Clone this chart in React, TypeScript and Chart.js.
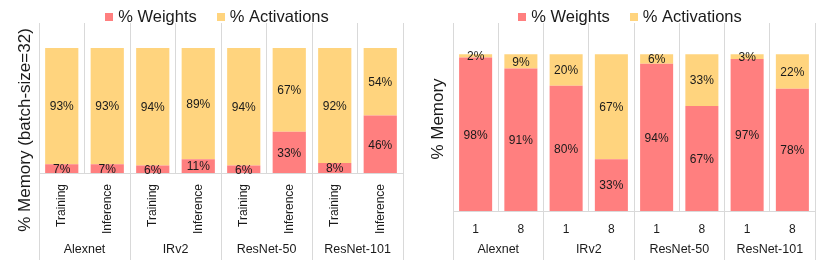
import React, { useEffect, useRef } from "react";
import { Chart, registerables } from "chart.js";

Chart.register(...registerables);

const groups = ["Alexnet", "IRv2", "ResNet-50", "ResNet-101"];
const leftCategories = ["Training", "Inference", "Training", "Inference", "Training", "Inference", "Training", "Inference"];
const leftWeights = [7, 7, 6, 11, 6, 33, 8, 46];
const leftActivations = [93, 93, 94, 89, 94, 67, 92, 54];
const rightCategories = ["1", "8", "1", "8", "1", "8", "1", "8"];
const rightWeights = [98, 91, 80, 33, 94, 67, 97, 78];
const rightActivations = [2, 9, 20, 67, 6, 33, 3, 22];
const seriesNames = ["% Weights", "% Activations"];

const RED = "#FF7F7F";
const YELLOW = "#FFD47E";
const GRID = "#d9d9d9";
const FONT = "'Liberation Sans', Arial, Helvetica, sans-serif";
const TEXT = "#1a1a1a";

const align = (p: number) => Math.round(p - 0.5) + 0.5;

const decorPlugin = {
  id: "decor",
  afterDraw(chart: any, _args: any, opts: any) {
    const ctx = chart.ctx as CanvasRenderingContext2D;
    const { left, right, bottom } = chart.chartArea;
    const n = chart.data.labels.length;
    const w = (right - left) / n;
    ctx.save();

    // group separators below the axis
    ctx.strokeStyle = GRID;
    ctx.lineWidth = 1;
    for (let g = 0; g <= groups.length; g++) {
      const px = align(left + g * 2 * w);
      ctx.beginPath();
      ctx.moveTo(px, bottom);
      ctx.lineTo(px, chart.height);
      ctx.stroke();
    }

    // group labels
    ctx.fillStyle = TEXT;
    ctx.font = `12.5px ${FONT}`;
    ctx.textAlign = "center";
    ctx.textBaseline = "middle";
    groups.forEach((name, g) => {
      ctx.fillText(name, left + (g * 2 + 1) * w, opts.groupY);
    });

    // data labels
    ctx.font = `12px ${FONT}`;
    chart.data.datasets.forEach((ds: any, di: number) => {
      const meta = chart.getDatasetMeta(di);
      meta.data.forEach((el: any, i: number) => {
        const v = ds.data[i];
        const cy = (el.y + el.base) / 2;
        ctx.fillText(`${v}%`, el.x, cy + 1);
      });
    });

    // y title
    ctx.save();
    ctx.font = `17px ${FONT}`;
    ctx.translate(opts.titleX, opts.titleY);
    ctx.rotate(-Math.PI / 2);
    ctx.textAlign = "center";
    ctx.textBaseline = "middle";
    ctx.fillText(opts.title, 0, 0);
    ctx.restore();

    // legend
    ctx.font = `16.5px ${FONT}`;
    ctx.textAlign = "left";
    ctx.textBaseline = "middle";
    const box = 8;
    const gapBox = 5;
    const gapItem = 20;
    const widths = seriesNames.map((s) => box + gapBox + ctx.measureText(s).width);
    const total = widths.reduce((a, b) => a + b, 0) + gapItem * (widths.length - 1);
    let x = (left + right) / 2 - 4 - total / 2;
    const ly = 16.5;
    const colors = [RED, YELLOW];
    seriesNames.forEach((s, i) => {
      ctx.fillStyle = colors[i];
      ctx.fillRect(Math.round(x), Math.round(ly - box / 2), box, box);
      ctx.fillStyle = TEXT;
      ctx.fillText(s, x + box + gapBox, ly + 0.5);
      x += widths[i] + gapItem;
    });

    ctx.restore();
  },
};

function makeConfig(
  categories: string[],
  weights: number[],
  activations: number[],
  rotated: boolean,
  axisHeight: number,
  padding: { left: number; right: number },
  plugOpts: any
): any {
  return {
    type: "bar",
    data: {
      labels: categories,
      datasets: [
        { label: seriesNames[0], data: weights, backgroundColor: RED, borderWidth: 0 },
        { label: seriesNames[1], data: activations, backgroundColor: YELLOW, borderWidth: 0 },
      ],
    },
    plugins: [decorPlugin],
    options: {
      animation: false,
      responsive: false,
      devicePixelRatio: 1,
      layout: { padding: { left: padding.left, right: padding.right, top: 23, bottom: 0 } },
      datasets: { bar: { categoryPercentage: 1, barPercentage: 0.73 } },
      plugins: {
        legend: { display: false },
        tooltip: { enabled: false },
        decor: plugOpts,
      },
      scales: {
        x: {
          stacked: true,
          grid: { display: true, color: GRID, lineWidth: 1, drawTicks: false, offset: true },
          border: { display: true, color: GRID },
          ticks: {
            autoSkip: false,
            minRotation: rotated ? 90 : 0,
            maxRotation: rotated ? 90 : 0,
            padding: rotated ? 11 : 11,
            color: TEXT,
            font: { family: FONT, size: 12 },
          },
          afterFit: (scale: any) => {
            scale.height = axisHeight;
          },
        },
        y: {
          display: false,
          stacked: true,
          min: 0,
          max: 120,
        },
      },
    },
  };
}

function ChartCanvas({ config }: { config: any }) {
  const ref = useRef<HTMLCanvasElement | null>(null);
  useEffect(() => {
    if (!ref.current) return;
    const chart = new Chart(ref.current, config);
    return () => chart.destroy();
  }, [config]);
  return <canvas ref={ref} width={415} height={260} style={{ display: "block", width: 415, height: 260 }} />;
}

const leftConfig = makeConfig(
  leftCategories,
  leftWeights,
  leftActivations,
  true,
  87,
  { left: 39, right: 12 },
  { groupY: 249.5, title: "% Memory (batch-size=32)", titleX: 25.5, titleY: 130 }
);

const rightConfig = makeConfig(
  rightCategories,
  rightWeights,
  rightActivations,
  false,
  49,
  { left: 38, right: 15 },
  { groupY: 250, title: "% Memory", titleX: 23.5, titleY: 119 }
);

export default function App() {
  return (
    <div
      style={{
        position: "absolute",
        left: 0,
        top: 0,
        width: 830,
        height: 260,
        display: "flex",
        background: "#ffffff",
      }}
    >
      <ChartCanvas config={leftConfig} />
      <ChartCanvas config={rightConfig} />
    </div>
  );
}
